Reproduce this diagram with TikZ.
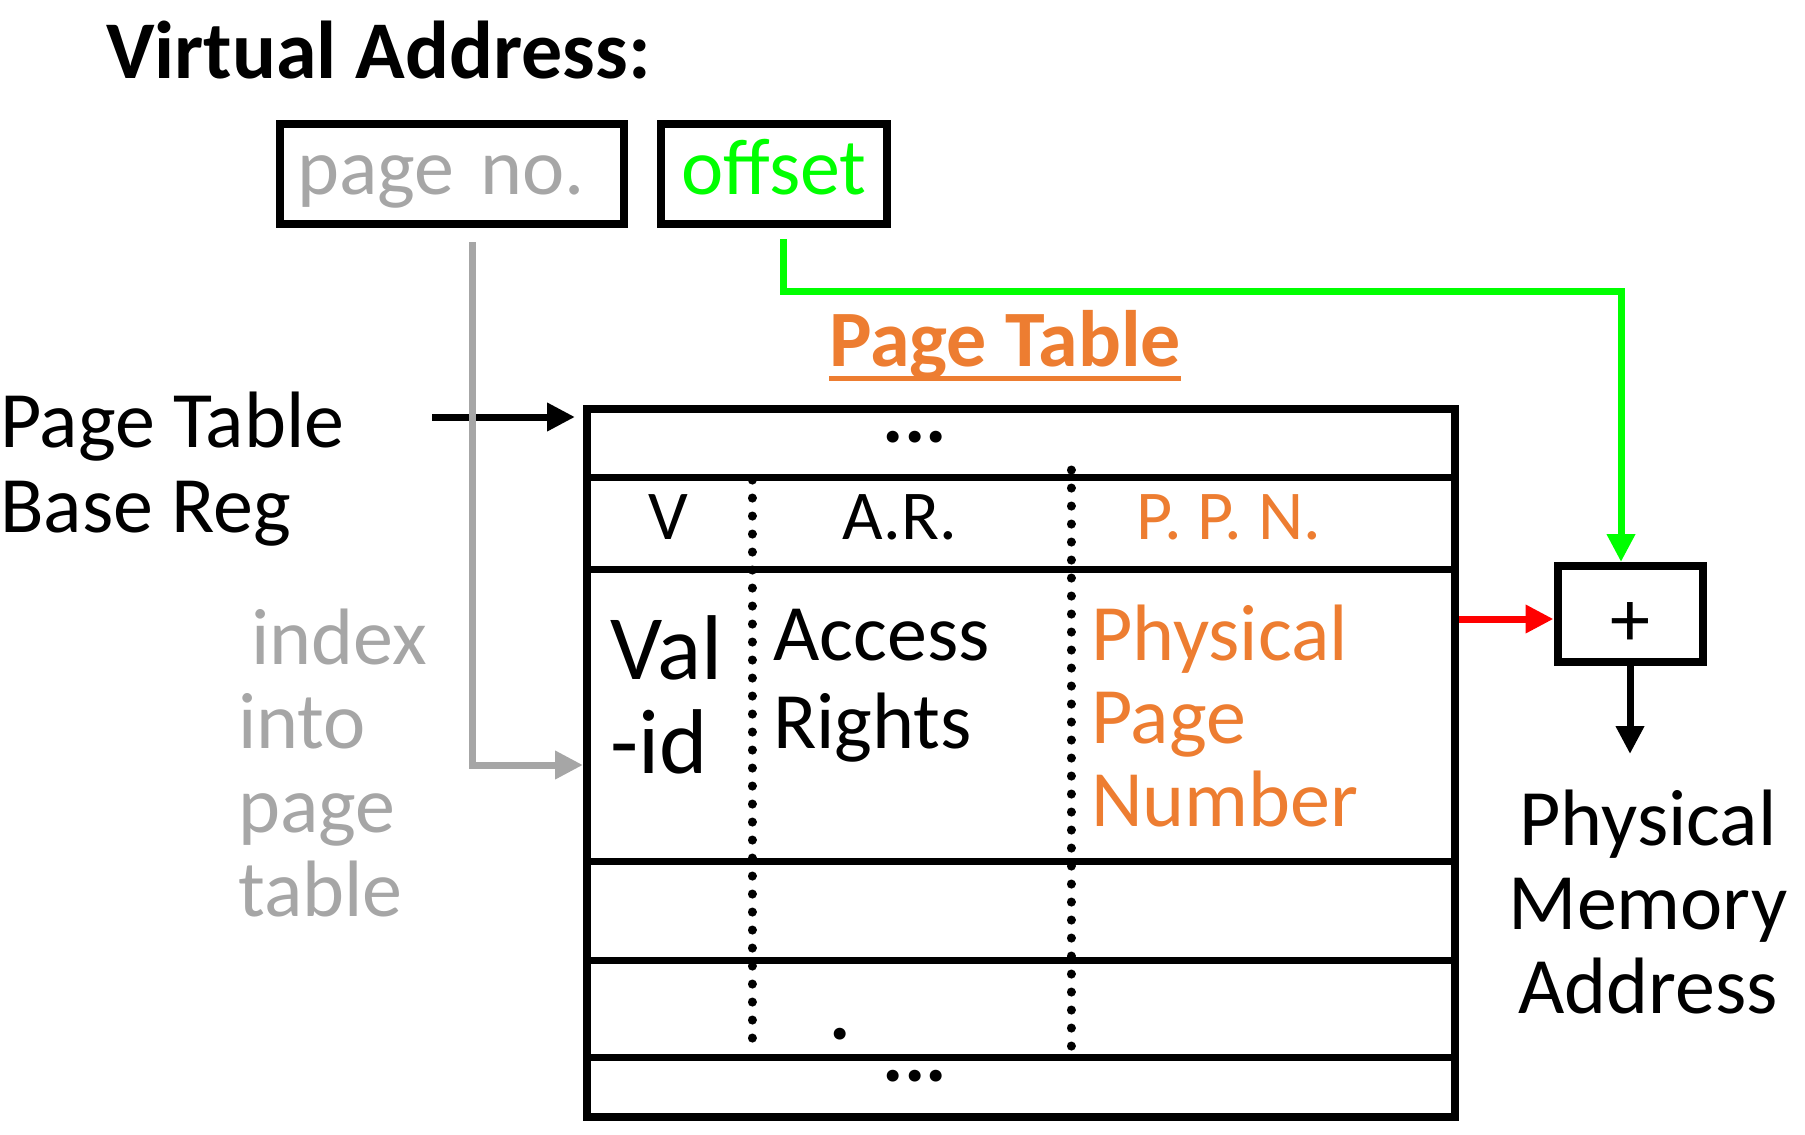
\documentclass[tikz,border=0pt]{standalone}
\usepackage{fontspec}
\setmainfont{Carlito}
\usetikzlibrary{positioning}
\usetikzlibrary{calc}
\usetikzlibrary{arrows.meta}

\definecolor{idxgray}{RGB}{166,166,166}
\definecolor{offgreen}{RGB}{0,255,0}
\definecolor{ptorange}{RGB}{237,125,49}

\begin{document}
\begin{tikzpicture}[x=1pt,y=-1pt]

\tikzstyle{txt}=[inner sep=0pt,font=\fontsize{80}{85}\selectfont];
\tikzstyle{hdr}=[inner sep=0pt,font=\fontsize{70}{74}\selectfont];
\tikzstyle{vaBox}=[rectangle,draw=black,line width=8pt,minimum height=100pt,inner sep=0pt,font=\fontsize{80}{85}\selectfont,text height=56pt,text depth=16pt];
\tikzstyle{tip}=[-{Triangle[length=28pt,width=27pt]}];
\tikzstyle{dotline}=[line width=9pt,line cap=round,dash pattern=on 0.1pt off 17.9pt];
%\tikzstyle{tip}=[-{Latex[length=20pt]}];

\useasboundingbox (0,0) rectangle (1805,1135);

\node [txt,anchor=base west,font=\fontsize{82}{85}\selectfont\bfseries] (vaddr) at (106,78) {Virtual Address:};

\node [vaBox,minimum width=344pt,text width=310pt,align=left,text=idxgray] (pageno) at (452,174) {page no.};
\node [vaBox,minimum width=226pt,text=offgreen] (offset) at (774,174) {offset};

\node [txt,anchor=base west,font=\fontsize{80}{85}\selectfont\bfseries,text=ptorange] (pttitle) at (829,366) {Page Table};
\draw [ptorange,line width=5pt] ($(pttitle.base west)+(0,12)$) -- ($(pttitle.base east)+(0,12)$);

% the table itself
\node [rectangle,draw=black,line width=8pt,minimum width=868pt,minimum height=708pt,inner sep=0pt] (ptable) at (1021,763) {};

\foreach \y in {477,569,861,960,1057}{
	\draw [line width=7pt] (ptable.west |- 0,\y) -- (ptable.east |- 0,\y);
};

\draw [dotline] (752,480) -- (752,1048);
\draw [dotline] (1071,470) -- (1071,1052);

\node [txt,font=\fontsize{80}{85}\selectfont\bfseries] (topdots) at (915,437) {...};
\node [hdr,anchor=base] (vhdr) at (668,539) {V};
\node [hdr,anchor=base] (arhdr) at (900,539) {A.R.};
\node [hdr,anchor=base,text=ptorange] (ppnhdr) at (1229,539) {P. P. N.};

% multi-line nodes: base is the last line
\node [txt,anchor=base west,align=left,font=\fontsize{92}{94}\selectfont] (valid) at (610,773) {Val\\-id};
\node [txt,anchor=base west,align=left,font=\fontsize{80}{88}\selectfont] (access) at (773,748) {Access\\Rights};
\node [txt,anchor=base west,align=left,font=\fontsize{80}{83}\selectfont,text=ptorange] (ppn) at (1091,826) {Physical\\Page\\Number};

\node [txt,font=\fontsize{80}{85}\selectfont\bfseries] (middot) at (840,1034) {.};
\node [txt,font=\fontsize{80}{85}\selectfont\bfseries] (botdots) at (915,1076) {...};

% base register and index
\node [txt,anchor=base west,align=left] (ptbr) at (0,532) {Page Table\\Base Reg};
\node [txt,anchor=base west,align=left,font=\fontsize{80}{84}\selectfont,text=idxgray] (index) at (238,916) {\hspace{13pt}index\\into\\page\\table};

\coordinate (baseptr) at (432,417);
\draw [line width=7pt,tip,shorten >=8pt] (baseptr) -- (baseptr -| ptable.west);

\coordinate (idxtop) at (472,242);
\draw [idxgray,line width=7pt,tip] (idxtop) |- (ptable.west |- 0,765);

% adder
\node [rectangle,draw=black,line width=8pt,minimum width=145pt,minimum height=96pt,inner sep=0pt,text height=64pt,text depth=0pt,font=\fontsize{80}{85}\selectfont] (plus) at (1630,614) {+};

\coordinate (offtop) at (783,239);
\coordinate (offturn) at (1621,291);
\draw [offgreen,line width=7pt,tip] (offtop) |- (offturn) -- (offturn |- plus.north);

\draw [red,line width=7pt,tip] (ptable.east |- 0,619) -- (plus.west |- 0,619);
\draw [line width=7pt,tip] (plus.south) -- ++(0,88);

\node [txt,anchor=base,align=center,font=\fontsize{80}{84}\selectfont] (pma) at (1648,1013) {Physical\\Memory\\Address};

\end{tikzpicture}
\end{document}
